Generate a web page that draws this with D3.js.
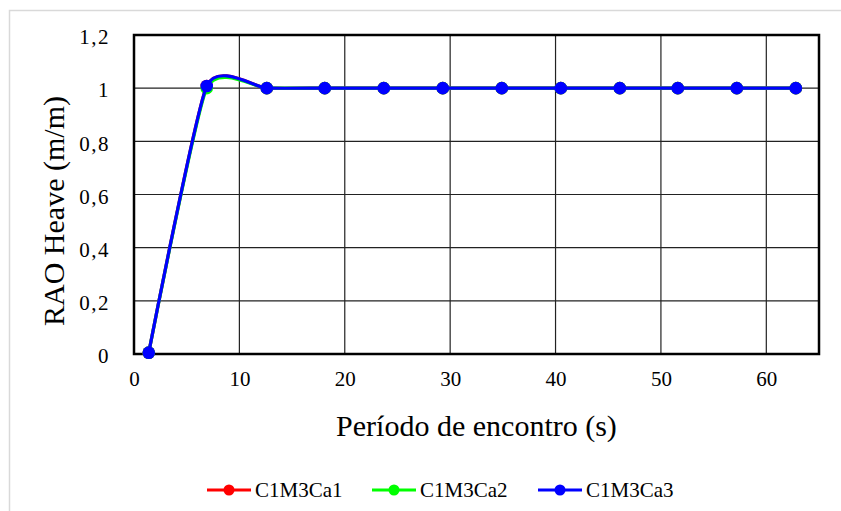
<!DOCTYPE html>
<html>
<head>
<meta charset="utf-8">
<script src="https://cdn.jsdelivr.net/npm/d3@7"></script>
<style>
  body { margin: 0; background: #fff; }
  text { font-family: "Liberation Serif", "Times New Roman", serif; fill: #000; }
</style>
</head>
<body>
<div id="chart"></div>
<script>
// data
const periods = [1.4, 6.9, 12.6, 18.1, 23.7, 29.3, 34.9, 40.5, 46.1, 51.6, 57.2, 62.8];
const ca1 = [0.005, 1.008, 1, 1, 1, 1, 1, 1, 1, 1, 1, 1];
const ca2 = [0.005, 1.0, 1, 1, 1, 1, 1, 1, 1, 1, 1, 1];
const ca3 = [0.005, 1.008, 1, 1, 1, 1, 1, 1, 1, 1, 1, 1];
const seriesNames = ["C1M3Ca1", "C1M3Ca2", "C1M3Ca3"];
const seriesColors = ["#ff0000", "#00ff00", "#0000ff"];
const xTicks = [0, 10, 20, 30, 40, 50, 60];
const yTicks = [0, 0.2, 0.4, 0.6, 0.8, 1, 1.2];

const W = 841, H = 511;
const margin = {top: 35, right: 22, bottom: 157, left: 134};
const serif = '"Liberation Serif", "Times New Roman", serif';

const svg = d3.select("#chart").append("svg")
    .attr("width", W).attr("height", H)
    .attr("font-family", serif);

// light outer frame of the chart area
svg.append("rect")
    .attr("x", 9.5).attr("y", 10.5)
    .attr("width", W).attr("height", H)
    .attr("fill", "#fff").attr("stroke", "#d9d9d9").attr("stroke-width", 1.5);

const x = d3.scaleLinear().domain([0, 65]).range([margin.left, W - margin.right]);
const y = d3.scaleLinear().domain([0, 1.2]).range([H - margin.bottom, margin.top]);

// grid
const grid = svg.append("g");
grid.selectAll("line.gx").data(xTicks.slice(1))
    .join("line").attr("class", "gx")
    .attr("x1", d => x(d)).attr("x2", d => x(d))
    .attr("y1", y(0)).attr("y2", y(1.2))
    .attr("stroke", "#222").attr("stroke-width", 1.2);
grid.selectAll("line.gy").data(yTicks.slice(1))
    .join("line").attr("class", "gy")
    .attr("x1", x(0)).attr("x2", x(65))
    .attr("y1", d => y(d)).attr("y2", d => y(d))
    .attr("stroke", "#222").attr("stroke-width", 1.2);

// axes (labels only, no tick marks)
const fmt = d => d3.format(".1f")(d).replace(".", ",").replace(",0", "");
const xAxis = svg.append("g")
    .attr("transform", `translate(0,${y(0) + 22})`)
    .call(d3.axisBottom(x).tickValues(xTicks).tickSize(0).tickFormat(d3.format("d")));
const yAxis = svg.append("g")
    .attr("transform", `translate(${x(0) - 21},2)`)
    .call(d3.axisLeft(y).tickValues(yTicks).tickSize(0).tickFormat(fmt));
[xAxis, yAxis].forEach(a => {
    a.attr("font-family", serif).attr("font-size", 21);
    a.select(".domain").remove();
});
xAxis.selectAll("text").attr("dy", "0.35em");
yAxis.selectAll("text").style("letter-spacing", "1.5px");

// plot border
svg.append("rect")
    .attr("x", x(0)).attr("y", y(1.2))
    .attr("width", x(65) - x(0)).attr("height", y(0) - y(1.2))
    .attr("fill", "none").attr("stroke", "#000").attr("stroke-width", 2.5);

// series
const allSeries = [ca1, ca2, ca3].map((vals, i) => ({
    name: seriesNames[i],
    color: seriesColors[i],
    points: periods.map((p, j) => ({x: p, y: vals[j]}))
}));

const line = d3.line()
    .x(d => x(d.x)).y(d => y(d.y))
    .curve(d3.curveCardinal.tension(0.45));

allSeries.forEach(s => {
    const g = svg.append("g");
    g.append("path")
        .datum(s.points)
        .attr("d", line)
        .attr("fill", "none")
        .attr("stroke", s.color)
        .attr("stroke-width", 3.2);
    g.selectAll("circle").data(s.points)
        .join("circle")
        .attr("cx", d => x(d.x)).attr("cy", d => y(d.y))
        .attr("r", 6.3)
        .attr("fill", s.color);
});

// axis titles
svg.append("text")
    .attr("x", (x(0) + x(65)) / 2).attr("y", 436)
    .attr("text-anchor", "middle")
    .style("font-size", "30px")
    .text("Período de encontro (s)");
svg.append("text")
    .attr("transform", "translate(64,211) rotate(-90)")
    .attr("text-anchor", "middle")
    .style("font-size", "30px")
    .text("RAO Heave (m/m)");

// legend
const legendX = [207, 372, 538];
const legend = svg.append("g").attr("transform", "translate(0,490)");
allSeries.forEach((s, i) => {
    const lg = legend.append("g").attr("transform", `translate(${legendX[i]},0)`);
    lg.append("line").attr("x1", 0).attr("x2", 44).attr("y1", 0).attr("y2", 0)
        .attr("stroke", s.color).attr("stroke-width", 3.2);
    lg.append("circle").attr("cx", 22).attr("cy", 0).attr("r", 5.5).attr("fill", s.color);
    lg.append("text").attr("x", 48).attr("y", 0).attr("dy", "0.35em")
        .style("font-size", "21px").text(s.name);
});
</script>
</body>
</html>
